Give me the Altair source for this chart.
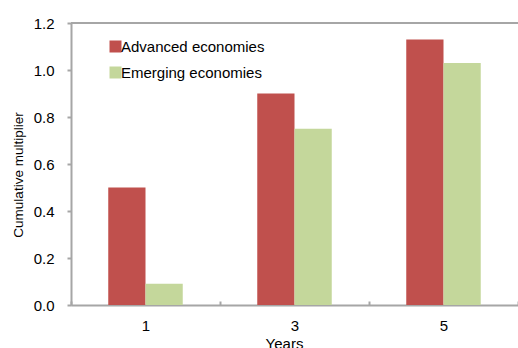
import altair as alt
import pandas as pd

# Cumulative multipliers by horizon and country group
years = ["1", "3", "5"]
advanced = [0.50, 0.90, 1.13]
emerging = [0.09, 0.75, 1.03]
groups = ["Advanced economies", "Emerging economies"]
colors = ["#C0504D", "#C4D79B"]
heading = "Emerging Economies"

rows = []
for i, yr in enumerate(years):
    rows.append({"year": yr, "group": groups[0], "value": advanced[i]})
    rows.append({"year": yr, "group": groups[1], "value": emerging[i]})
df = pd.DataFrame(rows)

FONT = "Liberation Sans"
GRAY = "#A6A6A6"

bars = alt.Chart(df).mark_bar().encode(
    x=alt.X(
        "year:N",
        sort=years,
        scale=alt.Scale(paddingInner=0, paddingOuter=0),
        axis=alt.Axis(
            title="Years",
            labelAngle=0,
            labelFontSize=15,
            labelPadding=17,
            tickBand="extent",
            tickSize={"expr": "-4"},
            tickColor=GRAY,
            tickWidth=2,
            domainColor=GRAY,
            domainWidth=2,
            titleFontSize=15,
            titleFontWeight="normal",
            titleBaseline="top",
            titleX=213,
            titleY=31,
        ),
    ),
    xOffset=alt.XOffset(
        "group:N", sort=groups,
        scale=alt.Scale(paddingInner=0, paddingOuter={"expr": "1.084"}),
    ),
    y=alt.Y(
        "value:Q",
        scale=alt.Scale(domain=[0, 1.2], nice=False),
        axis=alt.Axis(
            title="Cumulative multiplier",
            values=[0, 0.2, 0.4, 0.6, 0.8, 1.0, 1.2],
            format=".1f",
            grid=False,
            labelFontSize=15,
            labelPadding=13,
            tickSize=4,
            tickColor=GRAY,
            tickWidth=2,
            domainColor=GRAY,
            domainWidth=2,
            titleFontSize=13.5,
            titleFontWeight="normal",
            titleBaseline="alphabetic",
            titleX=-48.5,
            titleY=151.5,
        ),
    ),
    color=alt.Color(
        "group:N",
        sort=groups,
        scale=alt.Scale(domain=groups, range=colors),
        legend=alt.Legend(
            title=None,
            orient="none",
            legendX=37,
            legendY=16,
            symbolType="square",
            symbolSize=144,
            symbolStrokeWidth=0,
            labelFontSize=15,
            labelOffset={"expr": "-2"},
            rowPadding=10,
            padding=0,
        ),
    ),
)

# frame line along the top of the plot area
top_line = alt.Chart(df).mark_rule(color=GRAY, strokeWidth=2).encode(y=alt.value(0))

# red heading sitting above the frame, mostly outside the page
heading_text = alt.Chart(pd.DataFrame({"t": [heading]})).mark_text(
    color="#E31A1C", fontSize=21, fontWeight="bold", font=FONT,
    align="center", baseline="alphabetic",
).encode(x=alt.value(223), y=alt.value(-26.6), text="t:N")

chart = (
    alt.layer(bars, top_line, heading_text)
    .properties(
        width=447,
        height=282,
        autosize=alt.AutoSizeParams(type="none"),
        padding={"left": 71, "top": 23, "right": 0, "bottom": 43},
    )
    .configure(font=FONT)
    .configure_view(stroke=None)
    .configure_axis(labelColor="black", titleColor="black", labelFont=FONT, titleFont=FONT)
    .configure_legend(labelFont=FONT, labelColor="black")
)

chart.save("out.html", embed_options={"renderer": "svg", "actions": False})
